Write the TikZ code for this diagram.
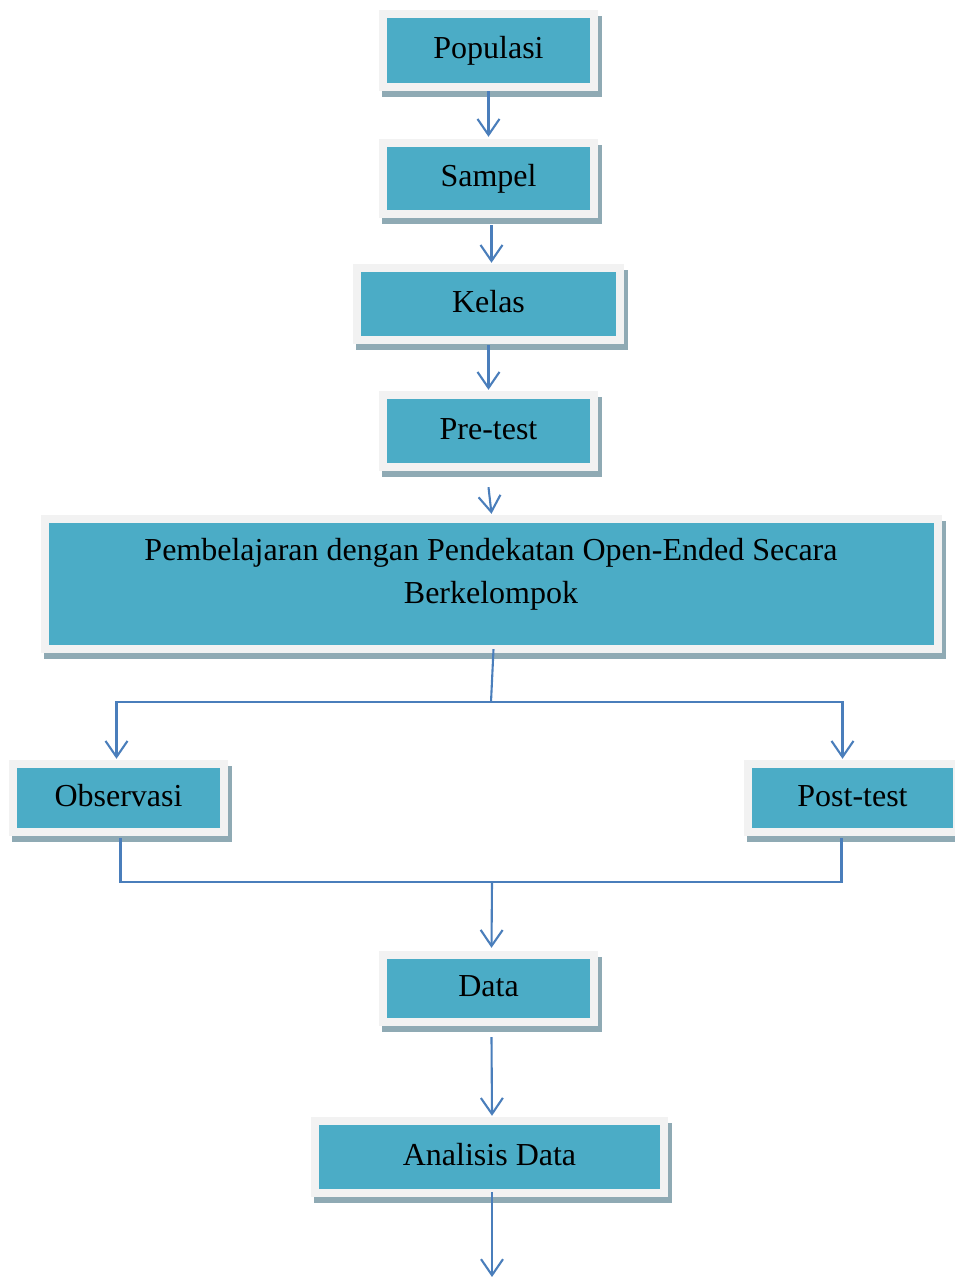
\documentclass[tikz,border=0pt]{standalone}
\usepackage{fontspec}
\setmainfont{Liberation Serif}
\usetikzlibrary{arrows.meta}
\definecolor{tealc}{HTML}{4BACC6}
\definecolor{framec}{HTML}{F2F2F2}
\definecolor{shadowc}{HTML}{8FAAB4}
\definecolor{linec}{HTML}{4A7EBB}
\tikzset{
  tbox/.style={fill=tealc, inner sep=0pt, text height=22pt, text depth=6pt,
    font=\fontsize{32}{43}\selectfont},
  flowline/.style={draw=linec, line width=2.1pt},
  flowarr/.style={flowline, -{Straight Barb[length=16pt,width=22pt]}}
}
\newcommand\flowbox[6]{%
  \fill[shadowc] (#2+3,#3+6) rectangle (#4+4,#5+6);
  \fill[framec] (#2,#3) rectangle (#4,#5);
  \node[tbox, minimum width={#4-#2-16}, minimum height={#5-#3-16}] (#1) at ({(#2+#4)/2},{(#3+#5)/2}) {#6};
}
\begin{document}
\begin{tikzpicture}[x=1pt,y=-1pt]
\useasboundingbox (0,0) rectangle (954,1277);
\flowbox{pop}{379}{10}{598}{91}{Populasi}
\flowbox{samp}{379}{139}{598}{218}{Sampel}
\flowbox{kel}{353}{264}{624}{344}{Kelas}
\flowbox{pre}{379}{391}{598}{471}{Pre-test}
\flowbox{pemb}{41}{515}{942}{653}{}
\node[font=\fontsize{32}{43}\selectfont, align=center, inner sep=0pt] (pembtext) at (491,574)
  {Pembelajaran dengan Pendekatan Open-Ended Secara\\Berkelompok};
\flowbox{obs}{9}{760}{228}{836}{Observasi}
\flowbox{post}{744}{760}{961}{836}{Post-test}
\flowbox{data}{379}{951}{598}{1026}{Data}
\flowbox{anal}{311}{1117}{668}{1197}{Analisis Data}

\coordinate (split) at (491,702);
\coordinate (join) at (492,882);
\coordinate (endpt) at (492,1277);

\draw[flowarr] ([yshift=-8pt]pop.south) -- ([yshift=10pt]samp.north);
\draw[flowarr] ([xshift=3pt,yshift=-15pt]samp.south) -- ([xshift=3pt,yshift=9pt]kel.north);
\draw[flowarr] ([yshift=-9pt]kel.south) -- ([yshift=9pt]pre.north);
\draw[flowarr] ([yshift=-24pt]pre.south) -- ([yshift=9pt]pemb.north);
\draw[flowline] ([xshift=2pt,yshift=-4pt]pemb.south) -- (split);
\draw[flowarr] (split) -| ([xshift=-2pt,yshift=9pt]obs.north);
\draw[flowarr] (split) -| ([xshift=-10pt,yshift=9pt]post.north);
\draw[flowline] ([xshift=2pt,yshift=-10pt]obs.south) |- (join);
\draw[flowline] ([xshift=-11pt,yshift=-10pt]post.south) |- (join);
\draw[flowarr] (join) -- ([xshift=3pt,yshift=11pt]data.north);
\draw[flowarr] ([xshift=3pt,yshift=-19pt]data.south) -- ([xshift=2.5pt,yshift=9pt]anal.north);
\draw[flowarr] ([xshift=2.5pt,yshift=-3pt]anal.south) -- (endpt);
\end{tikzpicture}
\end{document}
